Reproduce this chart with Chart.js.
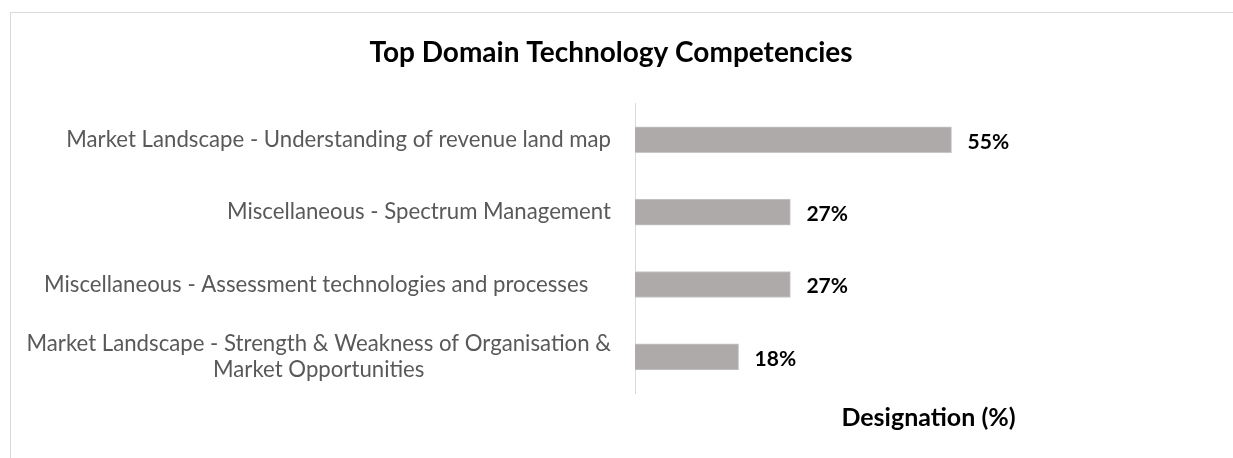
<!DOCTYPE html>
<html>
<head>
<meta charset="utf-8">
<script src="https://cdn.jsdelivr.net/npm/chart.js@4"></script>
<style>
  html, body { margin: 0; padding: 0; background: #fff; overflow: hidden; }
  #frame { position: absolute; left: 10px; top: 12px; width: 1400px; height: 600px; border-left: 1px solid #d9d9d9; border-top: 1px solid #d9d9d9; }
  #chart { position: absolute; left: 0; top: 0; }
</style>
</head>
<body>
<div id="frame"></div>
<canvas id="chart" width="1233" height="458"></canvas>
<script>
  const categories = [
    ['Market Landscape - Understanding of revenue land map'],
    ['Miscellaneous - Spectrum Management'],
    ['Miscellaneous - Assessment technologies and processes    '],
    ['Market Landscape - Strength & Weakness of Organisation &', 'Market Opportunities']
  ];
  const shares = [55, 27, 27, 18];
  const valueLabels = ['55%', '27%', '27%', '18%'];

  const fontFamily = 'Lato, "Open Sans", sans-serif';
  const labelRight = 611;

  // y tick labels: block right-aligned, lines centred inside the block (like Excel)
  const categoryLabels = {
    id: 'categoryLabels',
    afterDraw(chart) {
      const { ctx } = chart;
      const yScale = chart.scales.y;
      ctx.save();
      ctx.font = `22.2px ${fontFamily}`;
      ctx.fillStyle = '#595959';
      ctx.textAlign = 'center';
      ctx.textBaseline = 'middle';
      const lineHeight = 26;
      categories.forEach((lines, i) => {
        const y = yScale.getPixelForValue(i);
        const blockWidth = Math.max(...lines.map(l => ctx.measureText(l).width));
        const cx = labelRight - blockWidth / 2;
        const top = y - (lines.length - 1) * lineHeight / 2;
        lines.forEach((line, j) => {
          ctx.fillText(line, cx, top + j * lineHeight);
        });
      });
      ctx.restore();
    }
  };

  const valueTags = {
    id: 'valueTags',
    afterDatasetsDraw(chart) {
      const { ctx } = chart;
      const meta = chart.getDatasetMeta(0);
      ctx.save();
      ctx.font = `bold 21px ${fontFamily}`;
      ctx.fillStyle = '#000';
      ctx.textAlign = 'left';
      ctx.textBaseline = 'middle';
      meta.data.forEach((bar, i) => {
        ctx.fillText(valueLabels[i], bar.x + 16, bar.y + 2);
      });
      ctx.restore();
    }
  };

  new Chart(document.getElementById('chart').getContext('2d'), {
    type: 'bar',
    data: {
      labels: categories,
      datasets: [{
        data: shares,
        backgroundColor: '#aeaaaa',
        borderColor: '#c9c6c6',
        borderWidth: 1,
        barThickness: 26
      }]
    },
    options: {
      indexAxis: 'y',
      responsive: false,
      animation: false,
      layout: { padding: { left: 0, right: 11, top: 0, bottom: 19 } },
      plugins: {
        legend: { display: false },
        tooltip: { enabled: false },
        title: {
          display: true,
          text: 'Top Domain Technology Competencies',
          color: '#000',
          font: { family: fontFamily, size: 28, weight: 'bold' },
          padding: { top: 36, bottom: 34 }
        }
      },
      scales: {
        x: {
          min: 0,
          max: 102,
          ticks: { display: false },
          grid: { display: false, drawTicks: false },
          border: { display: false },
          title: {
            display: true,
            text: 'Designation (%)',
            color: '#000',
            font: { family: fontFamily, size: 25, weight: 'bold' },
            padding: { top: 10, bottom: 6 }
          }
        },
        y: {
          ticks: { display: false },
          grid: { display: false, drawTicks: false },
          border: { display: true, color: '#d9d9d9', width: 1 },
          afterFit(scale) { scale.width = 635; }
        }
      }
    },
    plugins: [categoryLabels, valueTags]
  });
</script>
</body>
</html>
